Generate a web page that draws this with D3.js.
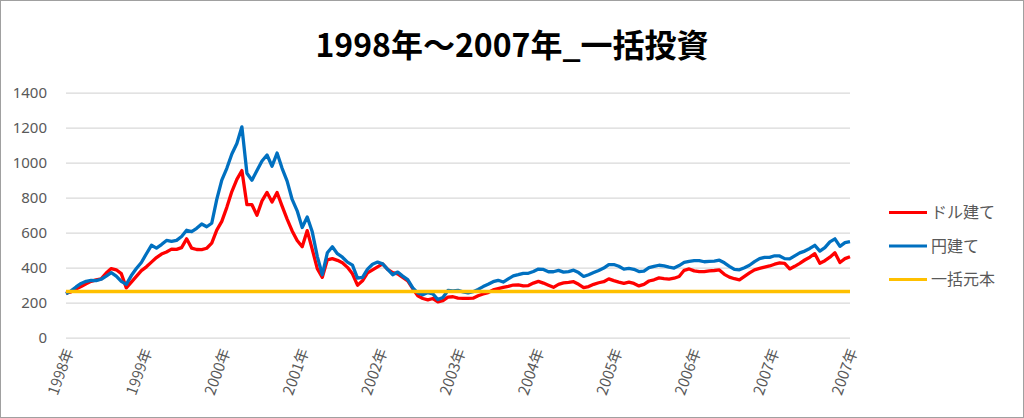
<!DOCTYPE html>
<html><head><meta charset="utf-8">
<script src="https://cdn.jsdelivr.net/npm/d3@7/dist/d3.min.js"></script>
<style>body{margin:0;background:#fff;} svg{display:block}</style>
</head><body><svg id="c" width="1024" height="418"></svg>
<script>
const chartTitle = "1998年～2007年_一括投資";
const xLabels = ["1998年","1999年","2000年","2001年","2002年","2003年","2004年","2005年","2006年","2007年","2007年"];
const yTicks = [0,200,400,600,800,1000,1200,1400];
const seriesNames = ["ドル建て","円建て","一括元本"];
const seriesColors = ["#FF0000","#0070C0","#FFC000"];
const dollarValues = [255,262,278,292,308,322,330,336,370,395,388,366,285,318,350,383,405,432,458,478,
  490,506,505,515,565,512,504,503,511,540,615,665,745,835,905,955,760,760,700,782,
  830,775,830,752,678,610,555,520,612,505,395,345,445,452,442,428,402,365,300,325,
  370,388,405,422,390,372,365,345,325,280,240,224,216,224,205,212,232,234,226,225,
  225,226,240,250,258,273,280,287,293,301,302,296,298,312,322,312,300,288,305,313,
  316,320,305,286,292,305,314,320,336,326,318,311,318,310,296,305,324,331,342,338,
  335,340,350,385,393,382,378,378,382,384,387,362,346,337,330,350,370,388,396,403,
  410,420,427,425,393,408,425,444,460,480,425,440,460,485,430,452,463];
const yenValues = [250,268,290,310,322,328,326,334,352,372,352,322,305,355,395,430,480,528,512,532,
  556,550,556,578,614,606,625,650,634,654,790,900,968,1050,1110,1205,940,900,955,1010,
  1044,980,1055,968,895,790,725,630,690,605,465,360,485,520,480,460,432,415,340,345,
  392,420,432,422,390,360,375,352,332,285,256,245,258,250,218,230,270,268,270,262,
  256,263,276,292,305,320,328,318,336,353,360,368,368,378,392,390,377,377,385,375,
  378,386,372,350,360,372,384,398,418,418,408,392,396,391,378,380,400,407,414,410,
  403,398,412,430,436,440,440,434,436,438,443,428,408,390,388,400,414,435,452,459,
  459,468,467,452,450,468,485,495,510,528,495,515,548,565,522,543,549];
const principal = 264;
const principalValues = yenValues.map(() => principal);
const allSeries = [dollarValues, yenValues, principalValues];

const svg = d3.select("#c");
svg.append("rect").attr("x",0.5).attr("y",0.5).attr("width",1023).attr("height",417)
  .attr("fill","#fff").attr("stroke","#A0A0A0");

const x0 = 66, x1 = 850, yTop = 92.7, yBot = 337.7;
const x = d3.scaleLinear().domain([0, yenValues.length-1]).range([x0, x1]);
const y = d3.scaleLinear().domain([0, 1400]).range([yBot, yTop]);
const xl = d3.scalePoint().domain(d3.range(xLabels.length)).range([x0, x1]);

svg.append("text").attr("x",512).attr("y",57).attr("text-anchor","middle")
  .attr("font-family","'Noto Sans CJK JP'").attr("font-weight","bold").attr("font-size",32)
  .attr("fill","#000").text(chartTitle);

// grid
const yAxis = d3.axisLeft(y).tickValues(yTicks).tickFormat(d3.format("d")).tickSize(-(x1-x0)).tickPadding(19);
const gy = svg.append("g").attr("transform",`translate(${x0},0)`).call(yAxis);
gy.select(".domain").remove();
gy.selectAll(".tick line").attr("stroke","#D9D9D9").attr("stroke-width",1.3);
gy.selectAll(".tick text").attr("fill","#595959").attr("font-family","'Noto Sans'").attr("font-size",15);

// x labels
svg.append("g").selectAll("text").data(xLabels).join("text")
  .attr("transform",(d,i)=>`translate(${xl(i)+3},349) rotate(-70)`)
  .attr("text-anchor","end").attr("dy","0.35em")
  .attr("fill","#595959").attr("font-family","'Noto Sans CJK JP'").attr("font-size",15)
  .text(d=>d);

const line = d3.line().x((d,i)=>x(i)).y(d=>y(d));
svg.append("g").selectAll("path").data(allSeries).join("path")
  .attr("d", d=>line(d)).attr("fill","none")
  .attr("stroke",(d,i)=>seriesColors[i]).attr("stroke-width",3.3)
  .attr("stroke-linejoin","round");

// legend
const lg = svg.append("g").selectAll("g").data(seriesNames).join("g")
  .attr("transform",(d,i)=>`translate(889,${212.5+i*33.5})`);
lg.append("line").attr("x1",0).attr("x2",38).attr("stroke",(d,i)=>seriesColors[i]).attr("stroke-width",3);
lg.append("text").attr("x",42).attr("dy","0.35em").attr("fill","#595959")
  .attr("font-family","'Noto Sans CJK JP'").attr("font-size",16).text(d=>d);
</script></body></html>
